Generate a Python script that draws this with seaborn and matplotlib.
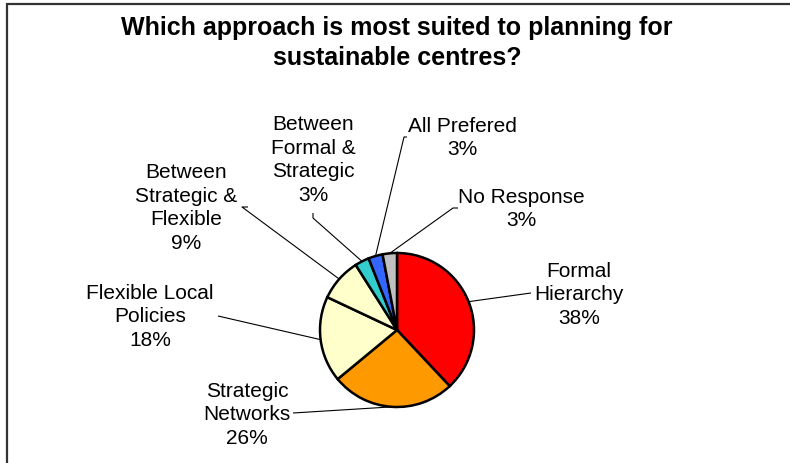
import matplotlib
matplotlib.use("Agg")
import numpy as np
import matplotlib.pyplot as plt
import seaborn as sns
from matplotlib.patches import Rectangle

# --- data ---
categories = ['Formal\nHierarchy', 'Strategic\nNetworks', 'Flexible Local\nPolicies',
              'Between\nStrategic &\nFlexible', 'Between\nFormal &\nStrategic',
              'All Prefered', 'No Response']
percent = [38, 26, 18, 9, 3, 3, 3]
colours = ['#FF0000', '#FF9900', '#FFFFCC', '#FFFFCC', '#33CCCC', '#3366FF', '#C0C0C0']

# --- layout (pixels in the 790x464 picture) ---
W, H = 790, 464
pie_cx, pie_cy, pie_r = 397, 331, 77
label_xy = [(579, 295), (247, 415), (150, 317), (186, 208), (313, 160), (462, 138), (521, 209)]
leader_px = [[(531, 294)], [(293, 414)], [(218, 317)], [(248, 208), (242, 208)],
             [(313, 214), (313, 219)], [(407, 138), (404, 138)], [(458, 209), (453, 209)]]


def to_data(p):
    return ((p[0] - pie_cx) / pie_r, (pie_cy - p[1]) / pie_r)


sns.set_theme(style="white")
plt.rcParams['font.family'] = ['Liberation Sans', 'DejaVu Sans']

fig = plt.figure(figsize=(W / 100, H / 100), dpi=100)
ax = fig.add_axes([0, 0, 1, 1])

wedges, _ = ax.pie(percent, colors=sns.color_palette(colours), startangle=90, counterclock=False,
                   radius=1, wedgeprops=dict(edgecolor='black', linewidth=1.8))

ax.set_xlim(-pie_cx / pie_r, (W - pie_cx) / pie_r)
ax.set_ylim((pie_cy - H) / pie_r, pie_cy / pie_r)
ax.set_aspect('equal')
ax.axis('off')

for w, cat, pct, lxy, pts in zip(wedges, categories, percent, label_xy, leader_px):
    ang = np.deg2rad((w.theta1 + w.theta2) / 2)
    edge = (np.cos(ang), np.sin(ang))
    path = [to_data(p) for p in pts] + [edge]
    xs, ys = zip(*path)
    ax.plot(xs, ys, color='black', lw=0.8, solid_capstyle='butt')
    tx, ty = to_data(lxy)
    ax.text(tx, ty, f'{cat}\n{pct}%', ha='center', va='center', fontsize=15,
            linespacing=1.3, color='black')

fig.text(397 / W, 1 - 43 / H, 'Which approach is most suited to planning for\nsustainable centres?',
         ha='center', va='center', fontsize=18, fontweight='bold', linespacing=1.3, color='black')

# chart area frame (only left and top edges fall inside the picture)
fig.add_artist(Rectangle((7 / W, -0.2), 1.2, 1.2 - 5 / H, transform=fig.transFigure,
                         fill=False, edgecolor='#333333', linewidth=1.6))

fig.savefig('out.png', dpi=100)
